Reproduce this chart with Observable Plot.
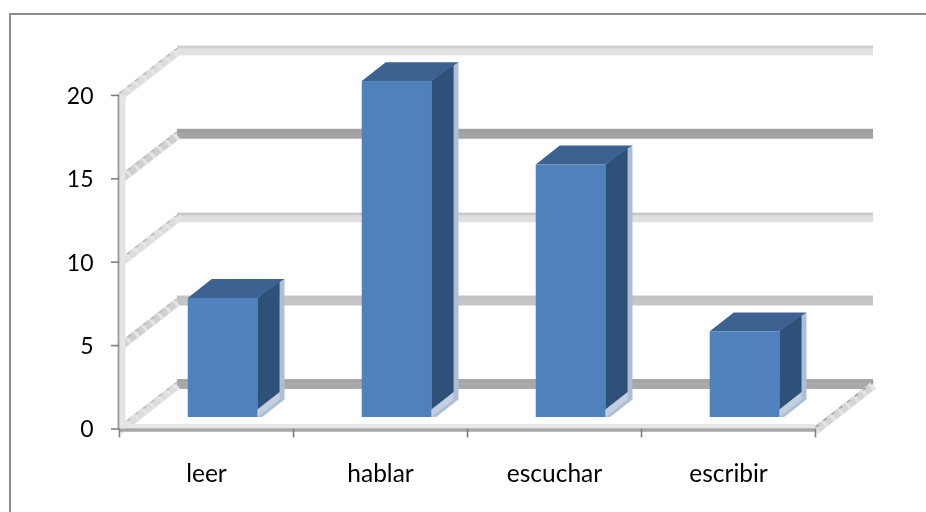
<!DOCTYPE html>
<html>
<head>
<meta charset="utf-8">
<script src="https://cdn.jsdelivr.net/npm/d3@7"></script>
<script src="https://cdn.jsdelivr.net/npm/@observablehq/plot@0.6"></script>
<style>
  html, body { margin: 0; padding: 0; background: #fff; overflow: hidden; }
  #frame { position: absolute; left: 9px; top: 13px; width: 917px; height: 499px; box-sizing: border-box;
           border-left: 2px solid #8c8c8c; border-top: 2px solid #8c8c8c; }
  #chart { position: absolute; left: 0; top: 0; width: 926px; height: 512px; filter: blur(0.6px); }
  #chart svg { display: block; }
</style>
</head>
<body>
<div id="frame"></div>
<div id="chart"></div>
<script>
// Data
const categories = ["leer", "hablar", "escuchar", "escribir"];
const values = [7, 20, 15, 5];
const gridValues = [0, 5, 10, 15, 20];

// 3D projection, in scale units
const depthX = 1 / 3, depthY = 2.7;
const barStart = 0.395, barWidth = 0.4;
const barBase = 0.69, topLift = 0.14, barDepthX = 0.128, barDepthY = 1.05, fringe = 0.028;

const bandFill = new Map([[0, "#a9a9a9"], [5, "#c6c6c6"], [10, "#e0e0e0"], [15, "#a4a4a4"], [20, "#e2e2e2"]]);
const bandEdge = new Map([[0, "#a4a4a4"], [5, "#c2c2c2"], [10, "#c6c6c6"], [15, "#9e9e9e"], [20, "#cccccc"]]);

const bars = values.map((v, i) => ({
  i, v,
  x0: i + barStart,
  x1: i + barStart + barWidth,
  base: barBase,
  top: v + barBase + topLift
}));

const sidePoints = bars.flatMap(b => [
  {i: b.i, x: b.x1, y1: b.base, y2: b.top},
  {i: b.i, x: b.x1 + barDepthX, y1: b.base + barDepthY, y2: b.top + barDepthY}
]);
const fringePoints = bars.flatMap(b => [
  {i: b.i, x: b.x1, y1: b.base, y2: b.top},
  {i: b.i, x: b.x1 + fringe, y1: b.base, y2: b.top},
  {i: b.i, x: b.x1 + barDepthX + fringe, y1: b.base + barDepthY, y2: b.top + barDepthY + 0.1}
]);
const darkSidePoints = bars.flatMap(b => [
  {i: b.i, x: b.x1, y1: b.base + 0.45, y2: b.top},
  {i: b.i, x: b.x1 + barDepthX, y1: b.base + barDepthY + 0.45, y2: b.top + barDepthY}
]);
const topPoints = bars.flatMap(b => [
  {i: b.i, y: b.top, x1: b.x0, x2: b.x1},
  {i: b.i, y: b.top + barDepthY + 0.08, x1: b.x0 + barDepthX + 0.01, x2: b.x1 + barDepthX + fringe}
]);

const wall = gridValues.flatMap(v => [
  {v, x: 0, y: v},
  {v, x: depthX, y: v + depthY}
]);
const wallDark = wall.filter(d => d.v === 5 || d.v === 15);
const wallLight = wall.filter(d => !(d.v === 5 || d.v === 15));
const floorSide = [
  {x: 4, y: 0},
  {x: 4 + depthX, y: depthY}
];
const butt = {strokeLinecap: "butt"};

const chart = Plot.plot({
  width: 926,
  height: 512,
  marginLeft: 119,
  marginRight: 53,
  marginTop: 11.5,
  marginBottom: 83.5,
  style: {fontFamily: "Lato, Carlito, sans-serif", background: "transparent", overflow: "visible"},
  x: {domain: [0, 4 + depthX], axis: null},
  y: {domain: [0, 25], axis: null},
  marks: [
    // back wall gridlines
    Plot.ruleY(gridValues, {
      y: d => d + depthY, x1: depthX, x2: 4 + depthX,
      stroke: d => bandFill.get(d), strokeWidth: 10
    }),
    Plot.ruleY(gridValues, {
      y: d => d + depthY, x1: depthX, x2: 4 + depthX, dy: -3,
      stroke: d => bandEdge.get(d), strokeWidth: 2
    }),
    // left wall diagonals
    Plot.line(wallLight, {x: "x", y: "y", z: "v", stroke: "#dddddd", strokeWidth: 8, dy: 1.5, ...butt}),
    Plot.line(wallDark, {x: "x", y: "y", z: "v", stroke: "#d0d0d0", strokeWidth: 8, dy: 1.5, ...butt}),
    Plot.line(wall, {x: "x", y: "y", z: "v", stroke: "#e6e6e6", strokeWidth: 8, strokeDasharray: "3 7", dy: 1.5, ...butt}),
    Plot.line(wall, {x: "x", y: "y", z: "v", stroke: "#bcbcbc", strokeWidth: 1.5, strokeDasharray: "4 6", dy: -2, ...butt}),
    // floor right edge
    Plot.line(floorSide, {x: "x", y: "y", stroke: "#d6d6d6", strokeWidth: 8, dy: 1.5, ...butt}),
    Plot.line(floorSide, {x: "x", y: "y", stroke: "#e6e6e6", strokeWidth: 8, strokeDasharray: "3 7", dy: 1.5, ...butt}),
    Plot.line(floorSide, {x: "x", y: "y", stroke: "#a4a4a4", strokeWidth: 1.5, strokeDasharray: "4 6", dy: -2, ...butt}),
    // floor front edge and wall vertical
    Plot.ruleY([0], {x1: 0, x2: 4, stroke: "#e6e6e6", strokeWidth: 4, dy: -3}),
    Plot.ruleY([0], {x1: 0, x2: 4, stroke: "#a6a6a6", strokeWidth: 3.5, dy: 1}),
    Plot.ruleX([0], {y1: 0, y2: 20, stroke: "#e4e4e4", strokeWidth: 6, dx: 3}),
    Plot.ruleX([0], {y1: 0, y2: 20, stroke: "#a0a0a0", strokeWidth: 2, dx: -1}),
    // 3D bars
    Plot.areaY(fringePoints, {x: "x", y1: "y1", y2: "y2", z: "i", fill: "#aebfd5"}),
    Plot.areaY(sidePoints, {x: "x", y1: "y1", y2: "y2", z: "i", fill: "#c4d0e0"}),
    Plot.areaY(darkSidePoints, {x: "x", y1: "y1", y2: "y2", z: "i", fill: "#2f5179"}),
    Plot.areaX(topPoints, {y: "y", x1: "x1", x2: "x2", z: "i", fill: "#3c6291"}),
    Plot.rect(bars, {x1: "x0", x2: "x1", y1: "base", y2: "top", fill: "#4f81bd"}),
    // axes
    Plot.axisY(gridValues, {tickSize: 8, stroke: "#808080", strokeWidth: 1.6, tickFormat: () => "", label: null}),
    Plot.axisY(gridValues, {tickSize: 0, tickPadding: 26, fontSize: 23, fill: "#000", label: null, dy: 1}),
    Plot.axisX([0, 1, 2, 3, 4], {tickSize: 9, stroke: "#808080", strokeWidth: 1.6, tickFormat: () => "", label: null}),
    Plot.axisX(categories.map((c, i) => i + 0.5), {
      tickSize: 0, tickPadding: 36, fontSize: 24.5, fill: "#000", label: null,
      tickFormat: d => categories[Math.floor(d)]
    })
  ]
});
document.getElementById("chart").appendChild(chart);
</script>
</body>
</html>
